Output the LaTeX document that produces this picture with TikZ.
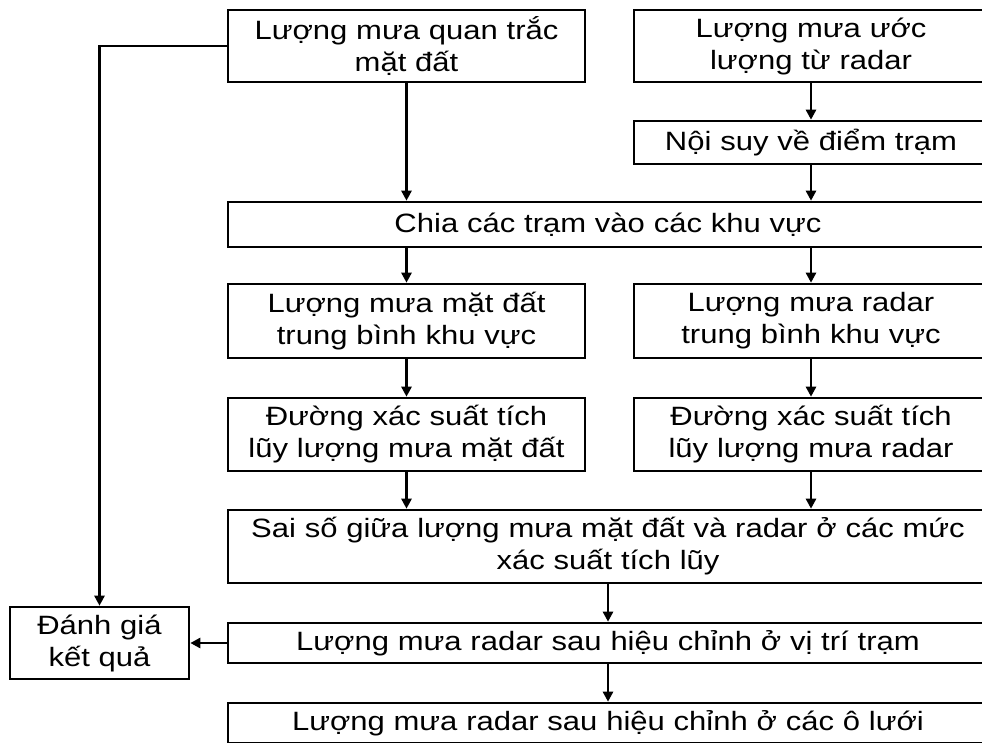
\documentclass[tikz,border=0pt]{standalone}
\usepackage{fontspec}
\setmainfont[FakeStretch=1.17]{Liberation Sans}
\usetikzlibrary{arrows.meta}
\begin{document}
\begin{tikzpicture}[x=1pt,y=-1pt,line width=2.6pt,
        box/.style={draw, inner sep=0pt, align=center, font=\fontsize{26.5pt}{32pt}\selectfont},
        narrowbox/.style={box, text width=357pt},
        rightbox/.style={box, text width=354pt},
        widebox/.style={box, text width=760pt},
        flow/.style={-{Triangle[length=10pt,width=10pt]}}]
        \useasboundingbox (0,0) rectangle (982,742);
        % top row
        \node[narrowbox, minimum height=72pt] (ground) at (406.5,46) {Lượng mưa quan trắc\\mặt đất};
        \node[rightbox, minimum height=72pt] (radar) at (811,46) {Lượng mưa ước\\lượng từ radar};
        \node[rightbox, minimum height=43pt] (interp) at (811,142.5) {Nội suy về điểm trạm};
        \node[widebox, minimum height=45pt] (zones) at (608,224.5) {Chia các trạm vào các khu vực};
        % averages and curves
        \node[narrowbox, minimum height=74pt] (gmean) at (406.5,321) {Lượng mưa mặt đất\\trung bình khu vực};
        \node[rightbox, minimum height=74pt] (rmean) at (811,321) {Lượng mưa radar\\trung bình khu vực};
        \node[narrowbox, minimum height=73pt] (gcdf) at (406.5,434.5) {Đường xác suất tích\\lũy lượng mưa mặt đất};
        \node[rightbox, minimum height=73pt] (rcdf) at (811,434.5) {Đường xác suất tích\\lũy lượng mưa radar};
        % bottom
        \node[widebox, minimum height=73pt] (error) at (608,546.5) {Sai số giữa lượng mưa mặt đất và radar ở các mức\\xác suất tích lũy};
        \node[widebox, minimum height=40pt] (station) at (608,643) {Lượng mưa radar sau hiệu chỉnh ở vị trí trạm};
        \node[widebox, minimum height=40pt] (grid) at (608,723) {Lượng mưa radar sau hiệu chỉnh ở các ô lưới};
        \node[box, text width=179pt, minimum height=72pt] (eval) at (99.5,643) {Đánh giá\\kết quả};
        % connectors
        \draw[flow] (ground.west) -| (eval.north);
        \draw[flow] (ground.south) -- (ground.south |- zones.north);
        \draw[flow] (radar) -- (interp);
        \draw[flow] (interp.south) -- (interp.south |- zones.north);
        \draw[flow] (gmean.north |- zones.south) -- (gmean);
        \draw[flow] (rmean.north |- zones.south) -- (rmean);
        \draw[flow] (gmean) -- (gcdf);
        \draw[flow] (rmean) -- (rcdf);
        \draw[flow] (gcdf.south) -- (gcdf.south |- error.north);
        \draw[flow] (rcdf.south) -- (rcdf.south |- error.north);
        \draw[flow] (error) -- (station);
        \draw[flow] (station) -- (eval);
        \draw[flow] (station) -- (grid);
\end{tikzpicture}
\end{document}
